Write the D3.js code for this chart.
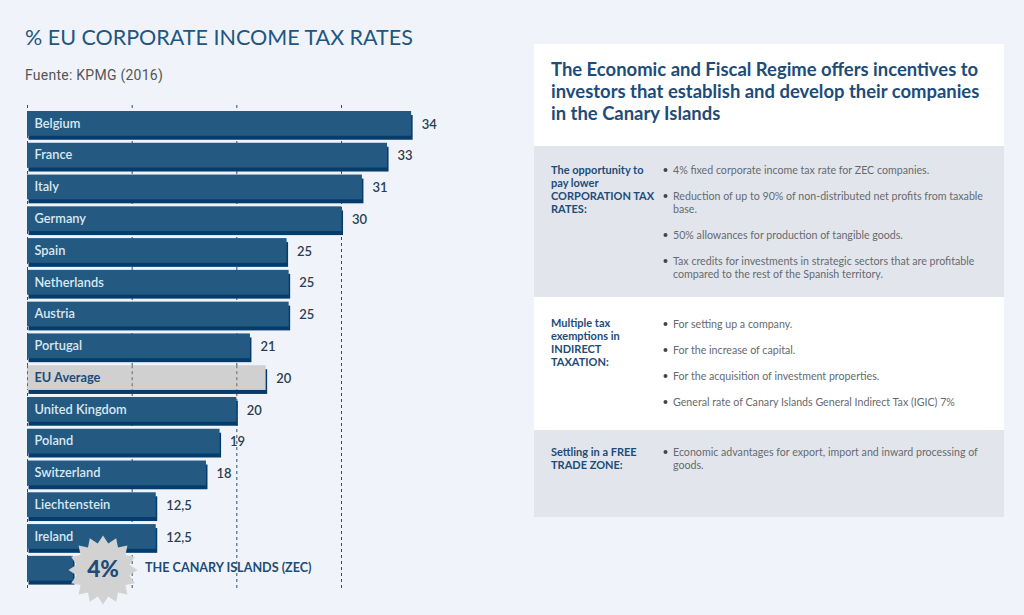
<!DOCTYPE html>
<html>
<head>
<meta charset="utf-8">
<script src="https://cdn.jsdelivr.net/npm/d3@7"></script>
<style>
  html, body { margin: 0; padding: 0; background: #f0f4fa; }
  svg { display: block; }
  text { font-family: Lato, sans-serif; }
</style>
</head>
<body>
<svg id="chart" width="1024" height="615"></svg>
<script>
const categories = ['Belgium','France','Italy','Germany','Spain','Netherlands','Austria','Portugal','EU Average','United Kingdom','Poland','Switzerland','Liechtenstein','Ireland','THE CANARY ISLANDS (ZEC)'];
// bar lengths as drawn in the picture (they do not follow the printed labels exactly)
const barValues = [36.7,34.4,32,30.05,24.8,25,25,21.3,22.8,20,18.4,17.1,12.3,12.3,4.4];
const valueLabels = ['34','33','31','30','25','25','25','21','20','20','19','18','12,5','12,5',''];
const gridTicks = [0,10,20,30];

const panelHeading = ['The Economic and Fiscal Regime offers incentives to','investors that establish and develop their companies','in the Canary Islands'];
const sectionLabels = [
  ['The opportunity to','pay lower','CORPORATION TAX','RATES:'],
  ['Multiple tax','exemptions in','INDIRECT','TAXATION:'],
  ['Settling in a FREE','TRADE ZONE:']
];
const sectionBullets = [
  [['4% fixed corporate income tax rate for ZEC companies.'],
   ['Reduction of up to 90% of non-distributed net profits from taxable','base.'],
   ['50% allowances for production of tangible goods.'],
   ['Tax credits for investments in strategic sectors that are profitable','compared to the rest of the Spanish territory.']],
  [['For setting up a company.'],
   ['For the increase of capital.'],
   ['For the acquisition of investment properties.'],
   ['General rate of Canary Islands General Indirect Tax (IGIC) 7%']],
  [['Economic advantages for export, import and inward processing of','goods.']]
];

const svg = d3.select('#chart');
const NAVY = '#1d4c78';

// ── Titles ──
svg.append('text').attr('x', 25).attr('y', 45)
  .attr('font-size', 21.5).attr('fill', '#215682').text('% EU CORPORATE INCOME TAX RATES');
svg.append('text').attr('x', 25).attr('y', 80)
  .style('font-family', 'Roboto, sans-serif').style('letter-spacing', '0.25px')
  .attr('font-size', 14).attr('fill', '#555').text('Fuente: KPMG (2016)');

// ── Scales ──
const x = d3.scaleLinear().domain([0, 30]).range([27, 341]);
const y = d3.scaleBand().domain(categories).range([111, 584.6]).paddingInner(0.095);
const mainH = y.bandwidth() - 4;

// ── Grid ──
const gridAxis = d3.axisBottom(x).tickValues(gridTicks).tickSize(485).tickFormat('');
const grid = svg.append('g').attr('transform', 'translate(0,105)').call(gridAxis);
grid.select('.domain').remove();
grid.selectAll('.tick line').attr('stroke', '#2f4c6b').attr('stroke-dasharray', '3,3');

// ── Bars ──
const rows = categories.map((c, i) => ({ name: c, value: barValues[i], label: valueLabels[i], avg: c === 'EU Average' }));

svg.append('g').selectAll('rect').data(rows).join('rect')
  .attr('x', x(0) + 1.5)
  .attr('y', d => y(d.name) + 4)
  .attr('width', d => x(d.value) - x(0))
  .attr('height', mainH)
  .attr('fill', '#063c6c');

svg.append('g').selectAll('rect').data(rows).join('rect')
  .attr('x', x(0))
  .attr('y', d => y(d.name))
  .attr('width', d => x(d.value) - x(0))
  .attr('height', mainH)
  .attr('fill', d => d.avg ? '#d0d0d0' : '#245a82');

// dashes show through the grey bar
const avg = rows.find(d => d.avg);
svg.append('g').selectAll('line').data(gridTicks.filter(t => t < avg.value)).join('line')
  .attr('x1', d => x(d) + 0.5).attr('x2', d => x(d) + 0.5)
  .attr('y1', y(avg.name)).attr('y2', y(avg.name) + mainH)
  .attr('stroke', '#666').attr('stroke-dasharray', '3,3');

// ── Category labels ──
svg.append('g').selectAll('text').data(rows.filter(d => d.label)).join('text')
  .attr('x', x(0) + 7.5)
  .attr('y', d => y(d.name) + 12.2)
  .attr('dy', '0.35em')
  .attr('font-size', 12.8).attr('font-weight', d => d.avg ? 700 : 600)
  .attr('fill', d => d.avg ? NAVY : '#dbe8f2')
  .text(d => d.name);

// ── Value labels ──
svg.append('g').selectAll('text').data(rows).join('text')
  .attr('x', d => x(d.value) + 10.5)
  .attr('y', d => y(d.name) + 13)
  .attr('dy', '0.35em')
  .attr('font-size', 13).attr('font-weight', 600)
  .attr('fill', '#2b3d50')
  .text(d => d.label);

// ── 4% badge ──
const starPts = d3.range(32).map(i => [i / 32 * 2 * Math.PI, i % 2 ? 27 : 34.5]);
const star = svg.append('g').attr('transform', 'translate(103,570)');
star.append('path')
  .attr('d', d3.lineRadial().curve(d3.curveLinearClosed)(starPts))
  .attr('fill', '#d2d2d2');
star.append('text').attr('text-anchor', 'middle').attr('dy', '0.35em').attr('y', -1)
  .attr('font-size', 22.5).attr('font-weight', 900).attr('fill', NAVY).text('4%');

svg.append('text').attr('x', 145).attr('y', y(categories[14]) + 11.5).attr('dy', '0.35em')
  .attr('font-size', 12.6).attr('font-weight', 700).attr('fill', NAVY)
  .text(categories[14]);

// ── Right panel ──
const panelX = 534, panelW = 470;
const bands = [[44, 146, '#ffffff'], [146, 297, '#e2e6ec'], [297, 430, '#ffffff'], [430, 517, '#e2e6ec']];
svg.append('g').selectAll('rect').data(bands).join('rect')
  .attr('x', panelX).attr('y', d => d[0])
  .attr('width', panelW).attr('height', d => d[1] - d[0])
  .attr('fill', d => d[2]);

svg.append('g').selectAll('text').data(panelHeading).join('text')
  .attr('x', 551).attr('y', (d, i) => 76 + i * 22)
  .attr('font-size', 18.45).attr('font-weight', 700).attr('fill', NAVY)
  .text(d => d);

const LINE = 13;
const sectionTop = [170, 324, 452];

sectionLabels.forEach((lines, s) => {
  svg.append('g').selectAll('text').data(lines).join('text')
    .attr('x', 551)
    .attr('y', (d, i) => sectionTop[s] - (s === 1 ? 1 : 0) + i * LINE)
    .attr('dy', '0.35em')
    .attr('font-size', 11).attr('font-weight', 700).attr('fill', NAVY)
    .text(d => d);

  let row = 0;
  sectionBullets[s].forEach(lines2 => {
    const yy = sectionTop[s] + row * LINE;
    svg.append('circle').attr('cx', 665.5).attr('cy', yy).attr('r', 2).attr('fill', '#444');
    lines2.forEach((t, i) => {
      svg.append('text').attr('x', 673).attr('y', yy + i * LINE).attr('dy', '0.35em')
        .attr('font-size', 10.65).attr('fill', '#666a70').text(t);
    });
    row += lines2.length + 1;
  });
});
</script>
</body>
</html>
